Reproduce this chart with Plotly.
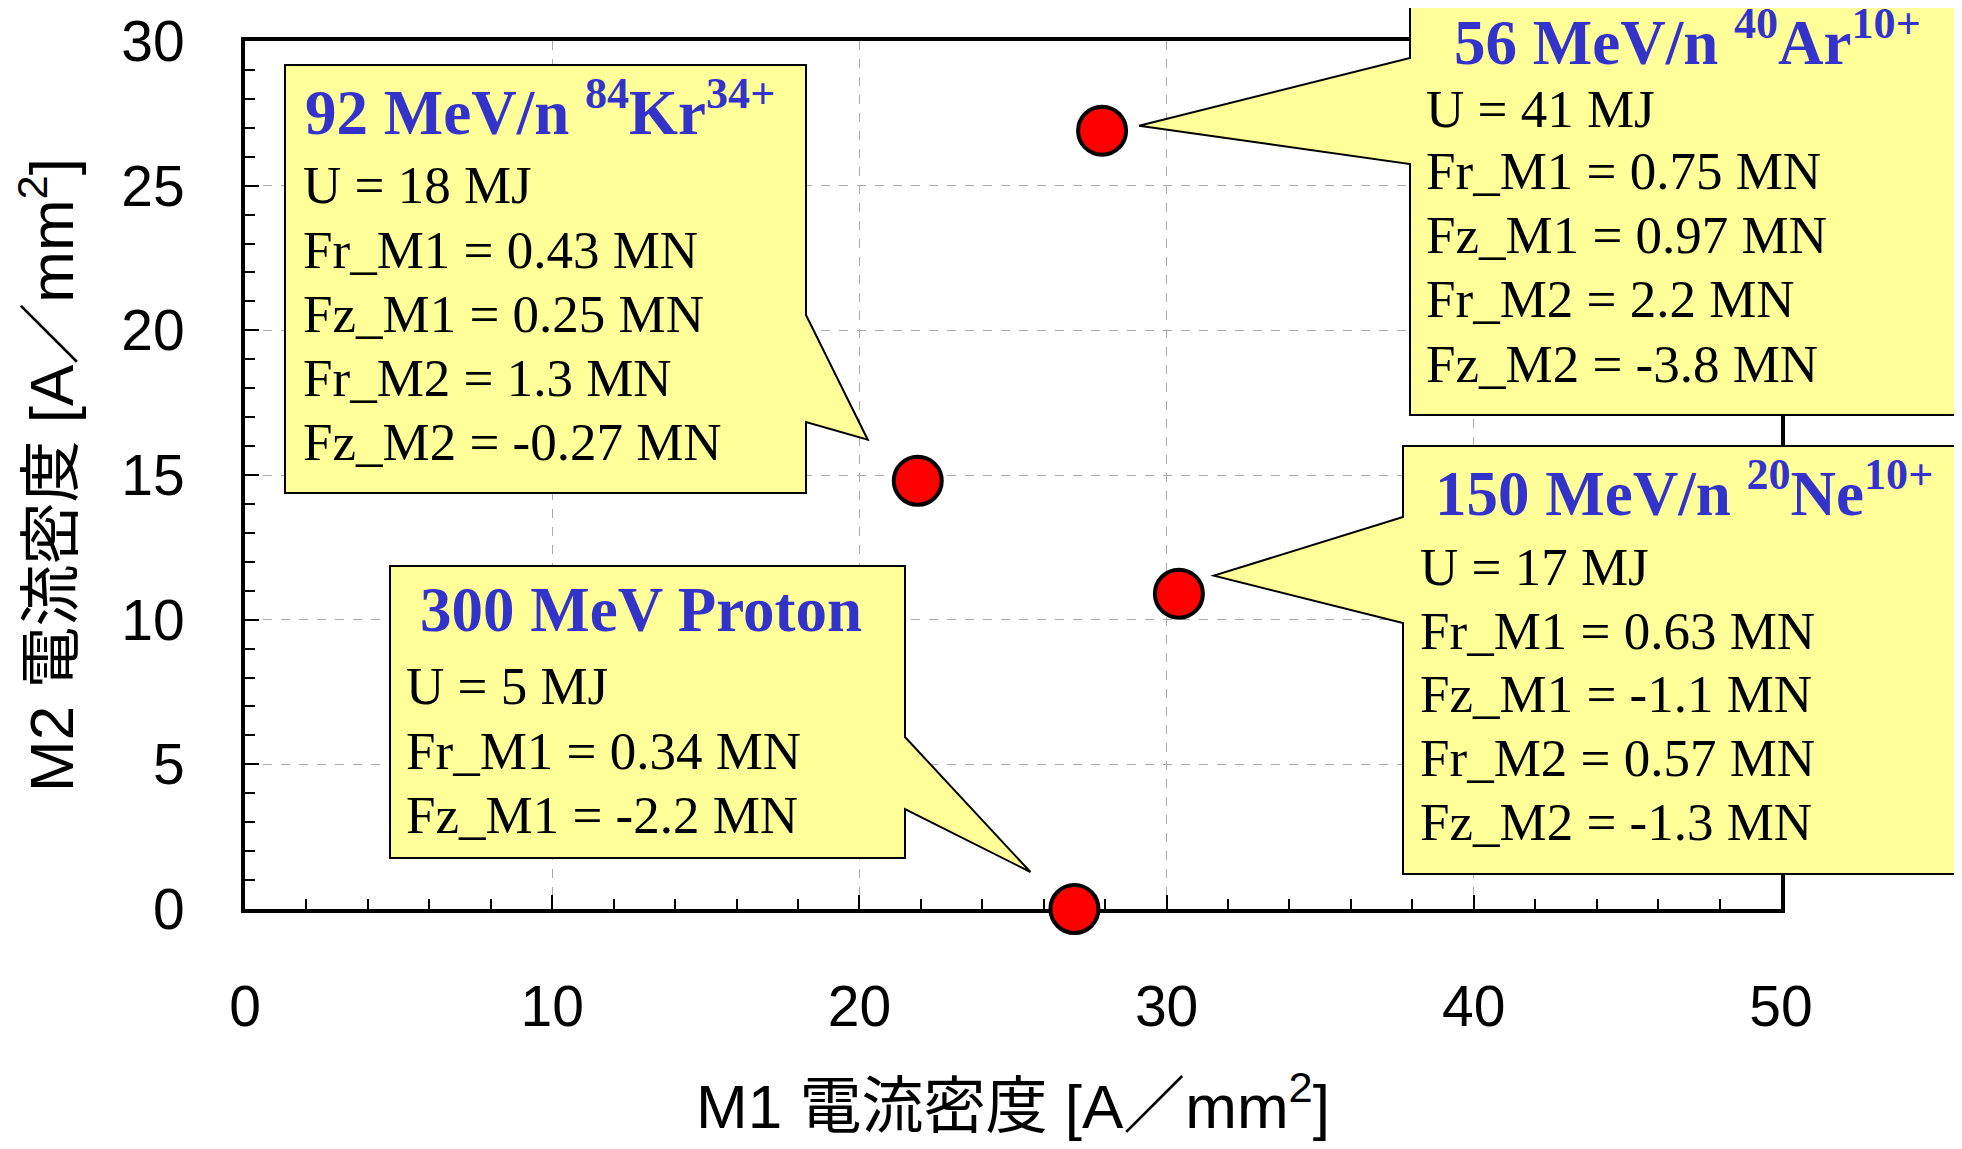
import plotly.graph_objects as go

# ---------------- data ----------------
beam_titles = ["300 MeV Proton",
               "92 MeV/n <sup>84</sup>Kr<sup>34+</sup>",
               "56 MeV/n <sup>40</sup>Ar<sup>10+</sup>",
               "150 MeV/n <sup>20</sup>Ne<sup>10+</sup>"]
m1_density = [27.0, 21.9, 27.9, 30.4]
m2_density = [0.0, 14.8, 26.9, 10.9]
energy_U = ["5", "18", "41", "17"]
fr_m1 = ["0.34", "0.43", "0.75", "0.63"]
fz_m1 = ["-2.2", "0.25", "0.97", "-1.1"]
fr_m2 = [None, "1.3", "2.2", "0.57"]
fz_m2 = [None, "-0.27", "-3.8", "-1.3"]
x_ticks = [0, 10, 20, 30, 40, 50]
y_ticks = [0, 5, 10, 15, 20, 25, 30]
x_title = "M1 電流密度 [A／mm<sup>2</sup>]"
y_title = "M2 電流密度 [A／mm<sup>2</sup>]"

# ---------------- geometry (page pixels) ----------------
W, H = 1962, 1149
PAGE_PAD = 8                      # default body margin of the html page
FW, FH = W - 2 * PAGE_PAD, H - 2 * PAGE_PAD
L, R, T, B = 245, 1781, 41, 909
XMAX, YMAX = 50, 30

def pxx(px):
    return (px - L) / (R - L)

def pxy(py):
    return (B - py) / (B - T)

def data_px(x, y):
    return L + x / XMAX * (R - L), B - y / YMAX * (B - T)

callouts = [
    dict(box=(390, 566, 905, 858), side="right", base=(737, 809), off=(-44, -37),
         tx=404, titx=418, tity=610, ly=[686, 751, 815]),
    dict(box=(285, 65, 806, 493), side="right", base=(315, 422), off=(-50, -41),
         tx=301, titx=303, tity=108, ly=[185, 250, 314, 378, 442]),
    dict(box=(1410, -80, 2010, 415), side="left", base=(58, 164), off=(37, -5),
         tx=1424, titx=1452, tity=38, ly=[109, 171, 235, 299, 364]),
    dict(box=(1403, 446, 2010, 874), side="left", base=(517, 623), off=(35, -18),
         tx=1418, titx=1433, tity=490, ly=[567, 631, 694, 758, 822]),
]

fig = go.Figure()
fig.add_trace(go.Scatter(
    x=m1_density, y=m2_density, mode="markers", cliponaxis=False,
    marker=dict(size=48, color="#FF0000", line=dict(color="black", width=4)),
    hoverinfo="skip", showlegend=False))

shapes = []
annotations = []
serif = "Liberation Serif, Times New Roman, serif"
for i, c in enumerate(callouts):
    x0, y0, x1, y1 = c["box"]
    p1, p2 = c["base"]
    ptx, pty = data_px(m1_density[i], m2_density[i])
    tipx, tipy = ptx + c["off"][0], pty + c["off"][1]
    if c["side"] == "right":
        pts = [(x0, y0), (x1, y0), (x1, p1), (tipx, tipy), (x1, p2), (x1, y1), (x0, y1)]
    else:
        pts = [(x0, y0), (x1, y0), (x1, y1), (x0, y1), (x0, p2), (tipx, tipy), (x0, p1)]
    path = "M " + " L ".join(f"{pxx(a):.5f},{pxy(b):.5f}" for a, b in pts) + " Z"
    shapes.append(dict(type="path", path=path, xref="paper", yref="paper",
                       fillcolor="#FFFF99", line=dict(color="black", width=2), layer="above"))
    annotations.append(dict(text=f"<b>{beam_titles[i]}</b>", x=pxx(c["titx"]), y=pxy(c["tity"]),
                            xref="paper", yref="paper", xanchor="left", yanchor="middle",
                            showarrow=False, font=dict(family=serif, size=63, color="#3333CC")))
    lines = [f"U = {energy_U[i]} MJ", f"Fr_M1 = {fr_m1[i]} MN", f"Fz_M1 = {fz_m1[i]} MN"]
    if fr_m2[i] is not None:
        lines.append(f"Fr_M2 = {fr_m2[i]} MN")
    if fz_m2[i] is not None:
        lines.append(f"Fz_M2 = {fz_m2[i]} MN")
    for ln, yy in zip(lines, c["ly"]):
        annotations.append(dict(text=ln, x=pxx(c["tx"]), y=pxy(yy), xref="paper", yref="paper",
                                xanchor="left", yanchor="middle", showarrow=False,
                                font=dict(family=serif, size=53, color="black")))

sans = "Liberation Sans, Arial, Noto Sans CJK JP, sans-serif"
axis_common = dict(showline=True, mirror=True, linecolor="black", linewidth=4,
                   ticks="inside", ticklen=14, tickwidth=1.5, tickcolor="black",
                   showgrid=True, gridcolor="#AAAAAA", griddash="dash", gridwidth=1,
                   zeroline=False, layer="below traces",
                   tickfont=dict(family=sans, size=57, color="black"))

fig.update_layout(
    width=FW, height=FH,
    margin=dict(l=L - PAGE_PAD, r=(W - PAGE_PAD) - R, t=T - PAGE_PAD, b=(H - PAGE_PAD) - B,
                autoexpand=False),
    paper_bgcolor="white", plot_bgcolor="white",
    xaxis=dict(range=[0, XMAX], tickvals=x_ticks, ticklabelstandoff=45,
               minor=dict(ticks="inside", dtick=2, ticklen=10, tickcolor="black", showgrid=False),
               title=dict(text=x_title, font=dict(family=sans, size=62, color="black"), standoff=75),
               **axis_common),
    yaxis=dict(range=[0, YMAX], tickvals=y_ticks, ticklabelstandoff=45,
               minor=dict(ticks="inside", dtick=1, ticklen=10, tickcolor="black", showgrid=False),
               title=dict(text=y_title, font=dict(family=sans, size=62, color="black"), standoff=30),
               **axis_common),
    shapes=shapes, annotations=annotations,
)

fig.write_html("out.html")
